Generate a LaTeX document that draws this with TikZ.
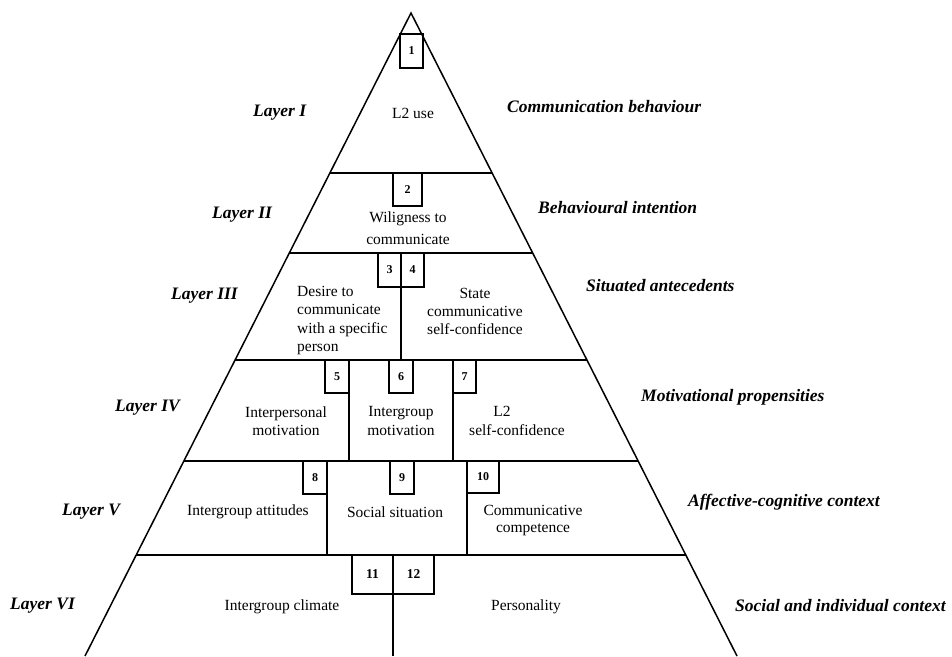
\documentclass[tikz,border=0pt]{standalone}
\usepackage{fontspec}
\setmainfont{Liberation Serif}
\begin{document}
\begin{tikzpicture}[x=1pt,y=-1pt,
  txt/.style={font=\fontsize{15.5}{18.3}\selectfont, align=center, inner sep=0pt},
  lab/.style={font=\fontsize{17.5}{20}\selectfont\bfseries\itshape, anchor=west, inner sep=0pt},
  numbox/.style={draw, line width=1.3pt, font=\fontsize{12}{13}\selectfont\bfseries, inner sep=0pt, outer sep=0pt},
  side/.style={line width=1.5pt},
  hline/.style={line width=1.9pt},
  vline/.style={line width=1.4pt}]
\useasboundingbox (0,0) rectangle (952,656);
\fill[white] (0,0) rectangle (952,656);
% pyramid outline
\coordinate (apex) at (411,13);
\coordinate (bl) at (85,656);
\coordinate (br) at (737,656);
\draw[side, line join=miter] (bl) -- (apex) -- (br);
% layer boundaries
\coordinate (h1l) at (329.9,173); \coordinate (h1r) at (492.1,173);
\coordinate (h2l) at (289.3,253); \coordinate (h2r) at (532.7,253);
\coordinate (h3l) at (235.1,360); \coordinate (h3r) at (586.9,360);
\coordinate (h4l) at (183.9,461); \coordinate (h4r) at (638.1,461);
\coordinate (h5l) at (136.2,555); \coordinate (h5r) at (685.8,555);
\draw[hline] (h1l) -- (h1r);
\draw[hline] (h2l) -- (h2r);
\draw[hline] (h3l) -- (h3r);
\draw[hline] (h4l) -- (h4r);
\draw[hline] (h5l) -- (h5r);
% vertical dividers
\coordinate (d34t) at (401,253); \coordinate (d34b) at (401,360);
\coordinate (d56t) at (349,360); \coordinate (d56b) at (349,461);
\coordinate (d67t) at (453,360); \coordinate (d67b) at (453,461);
\coordinate (d89t) at (327,461); \coordinate (d89b) at (327,555);
\coordinate (d910t) at (467,461); \coordinate (d910b) at (467,555);
\coordinate (d1112t) at (393,555); \coordinate (d1112b) at (393,656);
\draw[vline] (d34t) -- (d34b);
\draw[vline] (d56t) -- (d56b);
\draw[vline] (d67t) -- (d67b);
\draw[vline] (d89t) -- (d89b);
\draw[vline] (d910t) -- (d910b);
\draw[vline] (d1112t) -- (d1112b);
% numbered boxes
\node[numbox, minimum width=23pt, minimum height=34pt] (b1) at (411.5,51) {1};
\node[numbox, minimum width=29pt, minimum height=33pt] (b2) at (407.5,189.5) {2};
\node[numbox, minimum width=23pt, minimum height=34pt] (b3) at (389.5,270) {3};
\node[numbox, minimum width=23pt, minimum height=34pt] (b4) at (412.5,270) {4};
\node[numbox, minimum width=24pt, minimum height=33pt] (b5) at (337,376.5) {5};
\node[numbox, minimum width=24pt, minimum height=33pt] (b6) at (401,376.5) {6};
\node[numbox, minimum width=23pt, minimum height=33pt] (b7) at (464.5,376.5) {7};
\node[numbox, minimum width=24pt, minimum height=33pt] (b8) at (315,477.5) {8};
\node[numbox, minimum width=24pt, minimum height=33pt] (b9) at (402,477.5) {9};
\node[numbox, minimum width=32pt, minimum height=32pt] (b10) at (483,477) {10};
\node[numbox, minimum width=41pt, minimum height=39pt, font=\fontsize{13.5}{14}\selectfont\bfseries] (b11) at (372.5,574.5) {11};
\node[numbox, minimum width=41pt, minimum height=39pt, font=\fontsize{13.5}{14}\selectfont\bfseries] (b12) at (413.5,574.5) {12};
% contents
\node[txt] (t1) at (413,113) {L2 use};
\node[txt, font=\fontsize{15.5}{22.5}\selectfont] (t2) at (408,228) {Wiligness to\\communicate};
\node[txt, align=left, anchor=west] (t3) at (297,320.5) {Desire to\\ communicate\\ with a specific\\ person};
\node[txt] (t4) at (475,311.5) {State\\communicative\\self-confidence};
\node[txt] (t5) at (286,421) {Interpersonal\\motivation};
\node[txt] (t6) at (401,421) {Intergroup\\motivation};
\node[txt] (t7) at (517,421) {L2\hspace*{30pt}\\self-confidence};
\node[txt] (t8) at (248,512) {Intergroup attitudes};
\node[txt] (t9) at (395,512) {Social situation};
\node[txt, font=\fontsize{15.5}{17}\selectfont] (t10) at (533,520.5) {Communicative\\competence};
\node[txt] (t11) at (282,607) {Intergroup climate};
\node[txt] (t12) at (526,607) {Personality};
% layer labels
\node[lab] (l1) at (253,113) {Layer I};
\node[lab] (l2) at (212,215) {Layer II};
\node[lab] (l3) at (171,296) {Layer III};
\node[lab] (l4) at (115,408) {Layer IV};
\node[lab] (l5) at (62,512) {Layer V};
\node[lab] (l6) at (10,606) {Layer VI};
% category labels
\node[lab] (c1) at (507,107) {Communication behaviour};
\node[lab] (c2) at (538,208) {Behavioural intention};
\node[lab] (c3) at (586,286) {Situated antecedents};
\node[lab] (c4) at (641,397) {Motivational propensities};
\node[lab] (c5) at (688,502) {Affective-cognitive context};
\node[lab] (c6) at (735,606) {Social and individual context};
\end{tikzpicture}
\end{document}
